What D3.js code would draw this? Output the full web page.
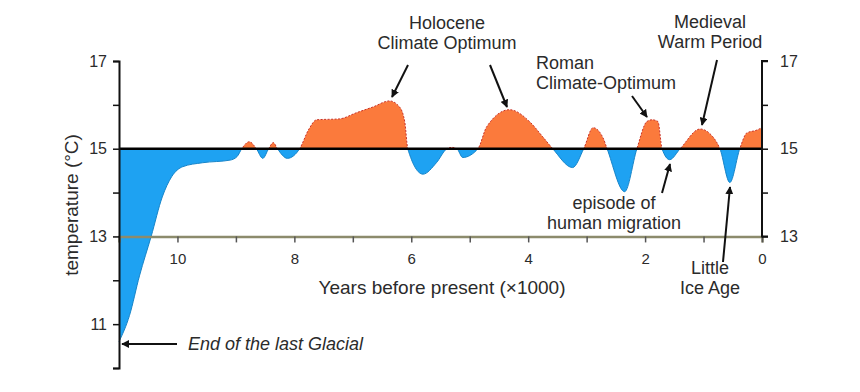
<!DOCTYPE html>
<html>
<head>
<meta charset="utf-8">
<script src="https://cdn.jsdelivr.net/npm/d3@7"></script>
<style>
  body { margin: 0; background: #fff; }
  svg text { font-family: "Liberation Sans", Arial, sans-serif; fill: #2b2b2b; }
</style>
</head>
<body>
<div class="chart"></div>
<script>
// thousands of years before present
const yearsBP = [11.0, 10.82, 10.65, 10.45, 10.26, 10.10, 9.91, 9.57, 9.1, 8.98, 8.9,
  8.77, 8.65, 8.54, 8.44, 8.36, 8.29, 8.12, 7.91, 7.75, 7.62,
  7.23, 6.94, 6.66, 6.37, 6.2, 6.11, 6.06, 5.80, 5.57, 5.39,
  5.31, 5.22, 5.12, 4.86, 4.71, 4.32, 3.97, 3.75, 3.58, 3.24,
  3.05, 2.89, 2.72, 2.65, 2.35, 2.14, 1.97, 1.88, 1.78, 1.71,
  1.58, 1.40, 1.06, 0.84, 0.72, 0.55, 0.38, 0.26, 0.1, 0.0];
// temperature (°C)
const temps = [10.6, 11.2, 12.1, 13.0, 13.9, 14.36, 14.59, 14.68, 14.74, 14.82, 15.0,
  15.16, 15.0, 14.78, 15.0, 15.14, 15.0, 14.78, 15.0, 15.45, 15.66,
  15.68, 15.82, 15.95, 16.09, 15.95, 15.6, 15.0, 14.42, 14.68, 15.0,
  15.03, 15.0, 14.8, 15.0, 15.5, 15.89, 15.61, 15.27, 15.0, 14.57,
  15.0, 15.48, 15.25, 15.0, 14.02, 15.0, 15.62, 15.66, 15.62, 15.0,
  14.75, 15.0, 15.45, 15.27, 15.0, 14.23, 15.0, 15.36, 15.42, 15.48];

const baseTemp = 15;
const xTicks = [10, 9, 8, 7, 6, 5, 4, 3, 2, 1, 0];
const xLabels = [10, 8, 6, 4, 2, 0];
const leftTicks = [10, 11, 12, 13, 14, 15, 16, 17];
const leftLabels = [11, 13, 15, 17];
const rightTicks = [13, 14, 15, 16, 17];
const rightLabels = [13, 15, 17];

const W = 860, H = 392;
const svg = d3.select('.chart').append('svg')
  .attr('width', W)
  .attr('height', H);

const x = d3.scaleLinear().domain([11, 0]).range([119, 762]);
const y = d3.scaleLinear().domain([10, 17]).range([368, 61]);

const pts = yearsBP.map(function(d, i) { return [d, temps[i]]; });

const area = d3.area()
  .x(function(d) { return x(d[0]); })
  .y0(y(baseTemp))
  .y1(function(d) { return y(d[1]); })
  .curve(d3.curveMonotoneX);
const line = d3.line()
  .x(function(d) { return x(d[0]); })
  .y(function(d) { return y(d[1]); })
  .curve(d3.curveMonotoneX);

const defs = svg.append('defs');
defs.append('clipPath').attr('id', 'warm')
  .append('rect').attr('x', 0).attr('y', 0).attr('width', W).attr('height', y(baseTemp));
defs.append('clipPath').attr('id', 'cold')
  .append('rect').attr('x', 0).attr('y', y(baseTemp)).attr('width', W).attr('height', H);
defs.append('marker').attr('id', 'head')
  .attr('viewBox', '0 0 10 10').attr('refX', 9).attr('refY', 5)
  .attr('markerWidth', 4).attr('markerHeight', 4).attr('orient', 'auto')
  .append('path').attr('d', 'M0,0 L10,5 L0,10 z').attr('fill', '#111');

// filled regions
svg.append('path').datum(pts)
  .attr('d', area).attr('fill', '#fb7a3c').attr('clip-path', 'url(#warm)');
svg.append('path').datum(pts)
  .attr('d', line).attr('fill', 'none').attr('stroke', '#c8322a')
  .attr('stroke-width', 1).attr('stroke-dasharray', '2,1.5').attr('clip-path', 'url(#warm)');
svg.append('path').datum(pts)
  .attr('d', area).attr('fill', '#1ea2f2').attr('clip-path', 'url(#cold)');
svg.append('path').datum(pts)
  .attr('d', line).attr('fill', 'none').attr('stroke', '#1784c8')
  .attr('stroke-width', 1).attr('clip-path', 'url(#cold)');

// x axis sitting on the 13 degree line
const xAxis = svg.append('g')
  .attr('transform', 'translate(0,' + y(13) + ')')
  .call(d3.axisBottom(x).tickValues(xTicks).tickSize(6).tickPadding(11)
    .tickFormat(function(d) { return xLabels.includes(d) ? d : ''; }));
xAxis.select('.domain').attr('stroke', '#8c8b6c').attr('stroke-width', 2.5);
xAxis.selectAll('.tick line').attr('stroke', '#555').attr('stroke-width', 1.5);
xAxis.selectAll('text').style('font-size', '15px');

// the 15 degree reference line
svg.append('line')
  .attr('x1', x(11)).attr('x2', x(0))
  .attr('y1', y(baseTemp)).attr('y2', y(baseTemp))
  .attr('stroke', '#000').attr('stroke-width', 2.5);

const yLeft = svg.append('g')
  .attr('transform', 'translate(' + x(11) + ',0)')
  .call(d3.axisLeft(y).tickValues(leftTicks).tickSize(6).tickPadding(6)
    .tickFormat(function(d) { return leftLabels.includes(d) ? d : ''; }));
yLeft.select('.domain').attr('stroke', '#111').attr('stroke-width', 2);
yLeft.selectAll('.tick line').attr('stroke', '#111').attr('stroke-width', 1.5);
yLeft.selectAll('text').style('font-size', '16px');

const yRight = svg.append('g')
  .attr('transform', 'translate(' + x(0) + ',0)')
  .call(d3.axisRight(y).tickValues(rightTicks).tickSize(6).tickPadding(12)
    .tickFormat(function(d) { return rightLabels.includes(d) ? d : ''; }));
yRight.select('.domain').attr('d', 'M6,' + y(17) + 'H0V' + y(13) + 'H6')
  .attr('stroke', '#111').attr('stroke-width', 2);
yRight.selectAll('.tick line').attr('stroke', '#111').attr('stroke-width', 1.5);
yRight.selectAll('text').style('font-size', '16px');

// axis titles
svg.append('text')
  .attr('x', 442).attr('y', 294)
  .attr('text-anchor', 'middle')
  .style('font-size', '19px')
  .text('Years before present (×1000)');
svg.append('text')
  .attr('transform', 'translate(78,205) rotate(-90)')
  .attr('text-anchor', 'middle')
  .style('font-size', '19px')
  .text('temperature (°C)');

// annotations
const notes = [
  {lines: ['Holocene', 'Climate Optimum'], x: 447, y: 29, anchor: 'middle'},
  {lines: ['Roman', 'Climate-Optimum'], x: 536, y: 69, anchor: 'start'},
  {lines: ['Medieval', 'Warm Period'], x: 710, y: 28, anchor: 'middle'},
  {lines: ['episode of', 'human migration'], x: 614, y: 209, anchor: 'middle'},
  {lines: ['Little', 'Ice Age'], x: 710, y: 274, anchor: 'middle'}
];
notes.forEach(function(n) {
  const t = svg.append('text')
    .attr('text-anchor', n.anchor)
    .style('font-size', '18px');
  n.lines.forEach(function(s, i) {
    t.append('tspan').attr('x', n.x).attr('y', n.y + i * 20).text(s);
  });
});

const arrows = [
  [408, 65, 392, 97],
  [490, 65, 507, 107],
  [632, 96, 647, 117],
  [717, 60, 702, 125],
  [662, 193, 670, 164],
  [723, 262, 730, 187],
  [177, 344, 122, 344]
];
svg.selectAll('.arrow').data(arrows)
  .enter().append('line')
  .attr('class', 'arrow')
  .attr('x1', function(d) { return d[0]; })
  .attr('y1', function(d) { return d[1]; })
  .attr('x2', function(d) { return d[2]; })
  .attr('y2', function(d) { return d[3]; })
  .attr('stroke', '#111').attr('stroke-width', 2)
  .attr('marker-end', 'url(#head)');

svg.append('text')
  .attr('x', 188).attr('y', 350)
  .style('font-size', '18px')
  .style('font-style', 'italic')
  .text('End of the last Glacial');
</script>
</body>
</html>
